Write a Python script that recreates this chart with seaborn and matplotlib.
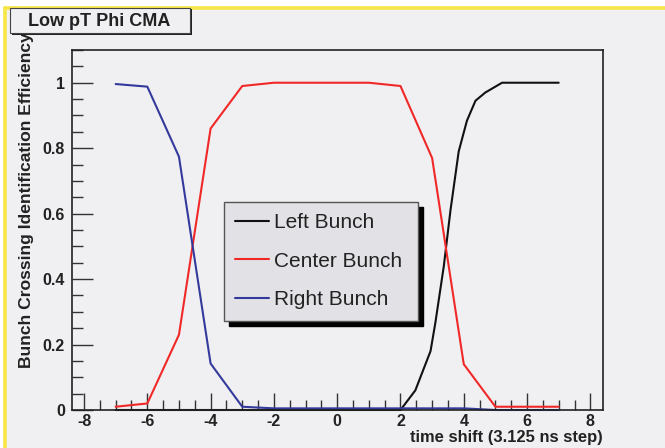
import numpy as np
import pandas as pd
import seaborn as sns
import matplotlib
matplotlib.use("Agg")
import matplotlib.pyplot as plt
from matplotlib.patches import Rectangle
from matplotlib.ticker import MultipleLocator

# Efficiency curves vs. time shift (units of 3.125 ns)
left_x = [-7, -6, -5, -4, -3, -2, -1, 0, 1, 2, 2.47, 2.95, 3.1, 3.37, 3.58, 3.84, 4.1, 4.37, 4.68, 5.21, 6, 7]
left_y = [0, 0, 0, 0, 0, 0, 0, 0, 0, 0, 0.06, 0.18, 0.265, 0.44, 0.61, 0.79, 0.884, 0.945, 0.97, 1.0, 1.0, 1.0]

shift_x = [-7, -6, -5, -4, -3, -2, -1, 0, 1, 2, 3, 4, 5, 6, 7]
center_y = [0.01, 0.02, 0.23, 0.86, 0.99, 1.0, 1.0, 1.0, 1.0, 0.99, 0.77, 0.14, 0.01, 0.01, 0.01]
right_y = [0.996, 0.988, 0.774, 0.142, 0.01, 0.005, 0.005, 0.005, 0.005, 0.005, 0.005, 0.005, 0.0, 0.0, 0.0]

series_names = ["Left Bunch", "Center Bunch", "Right Bunch"]
series_colors = ["#111111", "#f02828", "#333a9c"]

df = pd.concat([
    pd.DataFrame({"shift": left_x, "eff": left_y, "bunch": series_names[0]}),
    pd.DataFrame({"shift": shift_x, "eff": center_y, "bunch": series_names[1]}),
    pd.DataFrame({"shift": shift_x, "eff": right_y, "bunch": series_names[2]}),
], ignore_index=True)

sns.set_theme(style="white")
plt.rcParams["font.family"] = ["Liberation Sans", "DejaVu Sans"]
plt.rcParams["axes.unicode_minus"] = False

BG = "#f0f0f2"
INK = "#222222"
W, H = 665, 448
fig = plt.figure(figsize=(W / 100, H / 100), dpi=100)
fig.patch.set_facecolor("white")

# canvas frame: grey pad with yellow edge on top and left
fig.patches.append(Rectangle((5 / W, 0), 1, 1 - 8 / H, transform=fig.transFigure,
                             facecolor=BG, edgecolor="none", zorder=-5))
fig.add_artist(plt.Line2D([5 / W, 5 / W], [0, 1 - 8 / H], transform=fig.transFigure,
                          color="#f6e648", lw=2.6, zorder=-4))
fig.add_artist(plt.Line2D([5 / W, 1], [1 - 8 / H, 1 - 8 / H], transform=fig.transFigure,
                          color="#f6e648", lw=2.6, zorder=-4))

ax = fig.add_axes([72 / W, 1 - 410 / H, 531 / W, 360 / H])
ax.set_zorder(2)
ax.set_facecolor(BG)

sns.lineplot(data=df, x="shift", y="eff", hue="bunch", hue_order=series_names,
             palette=series_colors, linewidth=1.5, sort=False, ax=ax,
             estimator=None, legend=True)
for ln in ax.lines:
    ln.set_clip_on(False)

ax.set_xlim(-8.38, 8.4)
ax.set_ylim(0, 1.1)
ax.xaxis.set_major_locator(MultipleLocator(2))
ax.xaxis.set_minor_locator(MultipleLocator(0.5))
ax.yaxis.set_minor_locator(MultipleLocator(0.05))
ax.set_yticks([0, 0.2, 0.4, 0.6, 0.8, 1.0])
ax.set_yticklabels(["0", "0.2", "0.4", "0.6", "0.8", "1"])

ax.tick_params(which="both", direction="in", bottom=True, left=True, top=False, right=False,
               color="#333333", width=1.0)
ax.tick_params(axis="x", which="major", length=12, pad=3, labelsize=11.5)
ax.tick_params(axis="x", which="minor", length=7)
ax.tick_params(axis="y", which="major", length=15, pad=5, labelsize=11.5)
ax.tick_params(axis="y", which="minor", length=8)
for lab in ax.get_xticklabels() + ax.get_yticklabels():
    lab.set_fontweight("bold")
    lab.set_color(INK)

for sp in ax.spines.values():
    sp.set_visible(True)
    sp.set_color(INK)
    sp.set_linewidth(1.2)

ax.set_xlabel("time shift (3.125 ns step)", loc="right", fontsize=11.9, fontweight="bold", color=INK)
ax.xaxis.set_label_coords(1.0, -0.055)
ax.set_ylabel("Bunch Crossing Identification Efficiency", loc="top", fontsize=12.6,
              fontweight="bold", color=INK)
ax.yaxis.set_label_coords(-0.072, 1.05)

handles, labels = ax.get_legend_handles_labels()
leg = ax.legend(handles, labels, loc="upper left",
                bbox_to_anchor=(0.286, 0.25, 0.366, 0.328), mode="expand",
                borderaxespad=0, prop={"size": 15}, handlelength=1.6, handletextpad=0.25,
                labelspacing=0.93, borderpad=0.55, frameon=True, fancybox=False,
                shadow={"ox": 3.6, "oy": -3.6, "color": "black", "alpha": 1, "shade": 0.0})
leg.get_frame().set_facecolor("#e2e2e6")
leg.get_frame().set_edgecolor("#555555")
leg.get_frame().set_alpha(1)
leg.get_frame().set_linewidth(1.0)
for t in leg.get_texts():
    t.set_color(INK)
for lh in leg.get_lines():
    lh.set_linewidth(1.5)

# title pave with shadow
fig.patches.append(Rectangle((12 / W, 1 - 35 / H), 180 / W, 26 / H, transform=fig.transFigure,
                             facecolor=INK, edgecolor="none", zorder=5))
fig.patches.append(Rectangle((10 / W, 1 - 33 / H), 180 / W, 25 / H, transform=fig.transFigure,
                             facecolor=BG, edgecolor="#444444", lw=0.8, zorder=6))
fig.text(99 / W, 1 - 21 / H, "Low pT Phi CMA", ha="center", va="center",
         fontsize=13, fontweight="bold", color=INK, zorder=7)

fig.savefig("out.png", dpi=100, facecolor=fig.get_facecolor())
